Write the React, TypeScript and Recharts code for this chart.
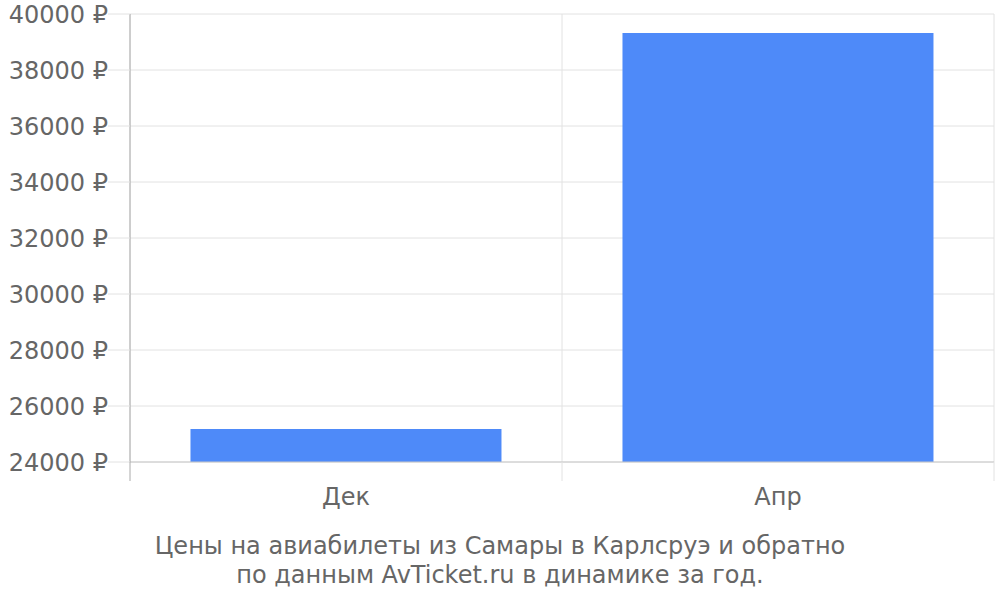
import { Bar, BarChart, CartesianGrid, XAxis, YAxis } from 'recharts'

const months = ['Дек', 'Апр']
const prices = [25180, 39320]
const priceTicks = [24000, 26000, 28000, 30000, 32000, 34000, 36000, 38000, 40000]
const captionLines = [
  'Цены на авиабилеты из Самары в Карлсруэ и обратно',
  'по данным AvTicket.ru в динамике за год.',
]

const data = months.map((name, i) => ({ name, price: prices[i] }))

const font = '"DejaVu Sans", sans-serif'
const textColor = '#666'
const gridColor = '#e2e2e2'
const LABEL_GAP = 26
const EDGE_TICK = 19

// month label plus the band boundary tick marks under the axis
function MonthTick(props: any) {
  const { x, y, payload, index, visibleTicksCount } = props
  const half = payload.offset ?? 0
  const top = y - LABEL_GAP
  const bottom = top + EDGE_TICK
  const isLast = index === (visibleTicksCount ?? months.length) - 1
  return (
    <g>
      <line x1={x - half} x2={x - half} y1={top} y2={bottom} stroke={index === 0 ? '#aaa' : gridColor} />
      {isLast && <line x1={x + half} x2={x + half} y1={top} y2={bottom} stroke={gridColor} />}
      <text x={x} y={y} dy="0.71em" textAnchor="middle" fill={textColor} fontSize={24} fontFamily={font}>
        {payload.value}
      </text>
    </g>
  )
}

export default function App() {
  return (
    <div
      style={{
        position: 'absolute',
        left: 0,
        top: 0,
        width: 1000,
        height: 600,
        background: '#fff',
        fontFamily: font,
      }}
    >
      <BarChart
        width={1000}
        height={600}
        data={data}
        margin={{ top: 14, right: 6, left: 0, bottom: 0 }}
        barCategoryGap="14%"
      >
        <CartesianGrid
          stroke={gridColor}
          verticalCoordinatesGenerator={({ offset }: any) => [
            offset.left,
            offset.left + offset.width / 2,
            offset.left + offset.width,
          ]}
        />
        <XAxis
          dataKey="name"
          height={138}
          tickLine={false}
          tickSize={0}
          tickMargin={LABEL_GAP}
          axisLine={{ stroke: '#c8c8c8' }}
          tick={<MonthTick />}
        />
        <YAxis
          width={130}
          domain={[24000, 40000]}
          ticks={priceTicks}
          interval={0}
          tickFormatter={(v: number) => `${v} ₽`}
          tickSize={22}
          tickMargin={0}
          axisLine={{ stroke: '#aaa' }}
          tickLine={{ stroke: gridColor }}
          tick={{ fill: textColor, fontSize: 24, fontFamily: font }}
        />
        <Bar dataKey="price" fill="#4e8af9" isAnimationActive={false} />
      </BarChart>
      <div
        style={{
          position: 'absolute',
          left: 0,
          top: 532,
          width: 1000,
          textAlign: 'center',
          color: textColor,
          fontSize: 24,
          lineHeight: '29px',
        }}
      >
        {captionLines.map((line) => (
          <div key={line}>{line}</div>
        ))}
      </div>
    </div>
  )
}
